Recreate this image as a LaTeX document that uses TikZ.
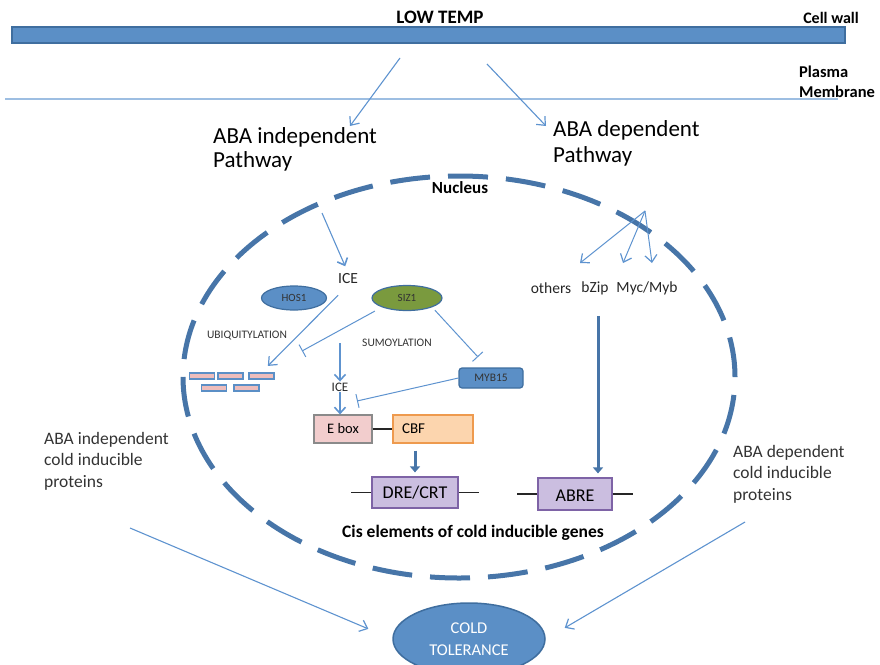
\documentclass[tikz,border=0pt]{standalone}
\usepackage{fontspec}
\setmainfont{Carlito}
\usetikzlibrary{arrows.meta,shapes.geometric,calc}

\definecolor{wallblue}{HTML}{5B8FC6}
\definecolor{walledge}{HTML}{3F6E9F}
\definecolor{arrowblue}{HTML}{5E93CF}
\definecolor{membranecol}{HTML}{9DBEE2}
\definecolor{nucblue}{HTML}{4775A8}
\definecolor{sizgreen}{HTML}{7A9A3E}
\definecolor{brickpink}{HTML}{EDBDBC}
\definecolor{eboxpink}{HTML}{F2CDCD}
\definecolor{eboxedge}{HTML}{8A8A8A}
\definecolor{cbforange}{HTML}{FCD5AE}
\definecolor{cbfedge}{HTML}{EE9A4E}
\definecolor{crefill}{HTML}{CBBEE0}
\definecolor{creedge}{HTML}{7E63A6}
\definecolor{labelgray}{HTML}{333333}

\tikzset{
  arr/.style={draw=arrowblue, line width=1.1pt, -{Straight Barb[length=7pt,width=12pt,line width=1.2pt]}},
  innerarr/.style={draw=arrowblue, line width=1.6pt, -{Straight Barb[length=6pt,width=11pt,line width=1.6pt]}},
  inhib/.style={draw=arrowblue, line width=1pt, -{Bar[width=14pt,line width=1pt]}},
  thickarr/.style={draw=nucblue, line width=3pt, -{Triangle[length=6pt,width=10pt]}},
  boldlabel/.style={font=\bfseries\fontsize{16.5}{20}\selectfont, align=left, inner sep=0pt},
  pathlabel/.style={font=\fontsize{23}{24}\selectfont, align=left, inner sep=0pt, anchor=north west},
  protlabel/.style={font=\fontsize{17.5}{21.5}\selectfont, align=left, inner sep=0pt, anchor=north west, text=labelgray},
  tflabel/.style={font=\fontsize{15.5}{18}\selectfont, inner sep=1pt, text=black!85},
  smalllabel/.style={font=\fontsize{11.5}{13}\selectfont, inner sep=0pt, text=labelgray},
  oval/.style={ellipse, draw=walledge, line width=1.2pt, inner sep=0pt, font=\fontsize{11}{13}\selectfont, text=black!80},
  brick/.style={rectangle, draw=wallblue, fill=brickpink, line width=1.4pt, minimum width=25pt, minimum height=6pt, inner sep=0pt},
  elem/.style={rectangle, draw=creedge, fill=crefill, line width=1.2pt, inner sep=0pt, font=\fontsize{18}{21}\selectfont},
  nucleus/.style={draw=nucblue, line width=5pt, dash pattern=on 40pt off 18pt}
}

\begin{document}
\begin{tikzpicture}[x=1pt,y=-1pt]
\useasboundingbox (0,0) rectangle (880,664);

% cell wall and plasma membrane
\node[font=\bfseries\fontsize{19}{22}\selectfont, inner sep=0pt] (lowtemp) at (440,17) {LOW TEMP};
\node[boldlabel, font=\bfseries\fontsize{16}{19}\selectfont] (cellwalllabel) at (831,18) {Cell wall};
\node[rectangle, draw=walledge, fill=wallblue, line width=1.5pt, minimum width=833pt, minimum height=16pt, inner sep=0pt] (wall) at (428.5,35) {};
\node[boldlabel] (pmlabel) at (837,82) {Plasma\\Membrane};
\draw[membranecol, line width=1.5pt] (5,99) -- (838,99);

% the two pathways
\node[pathlabel] (indep) at (213,127) {ABA independent\\Pathway};
\node[pathlabel, font=\fontsize{23}{26}\selectfont] (dep) at (553,120) {ABA dependent\\Pathway};
\coordinate (srcL) at (400,58);
\coordinate (srcR) at (487,64);
\coordinate (tipL) at (350,126);
\coordinate (tipR) at (546,126);
\draw[arr] (srcL) -- (tipL);
\draw[arr] (srcR) -- (tipR);

% nucleus
\draw[nucleus] (459,377) ellipse [x radius=276pt, y radius=201pt];
\node[font=\bfseries\fontsize{17}{20}\selectfont, inner sep=0pt] (nuclabel) at (460,188) {Nucleus};

% ABA independent branch
\coordinate (entryL) at (322,213);
\node[tflabel] (ice1) at (348,279) {ICE};
\draw[innerarr, line width=1.1pt, shorten >=7pt] (entryL) -- (ice1.north);
\node[oval, fill=wallblue, minimum width=65pt, minimum height=24pt] (hos) at (294,298) {HOS1};
\node[oval, fill=sizgreen, minimum width=70pt, minimum height=25pt] (siz) at (407,298) {SIZ1};
\node[smalllabel] (ubiq) at (247,336) {UBIQUITYLATION};
\node[smalllabel] (sumo) at (397,343) {SUMOYLATION};

\node[brick] (b1) at (202,376) {};
\node[brick] (b2) at (230.5,376) {};
\node[brick] (b3) at (261.5,376) {};
\node[brick] (b4) at (214,388) {};
\node[brick] (b5) at (246.5,388) {};
\draw[arr, shorten <=14pt, shorten >=9pt] (ice1.south) -- (b3.north);

\coordinate (ubT) at (302,351);
\coordinate (mybT) at (478,357);
\draw[inhib, shorten <=8pt] (siz.south west) -- (ubT);
\draw[inhib, shorten <=4pt] (siz.south east) -- (mybT);

\node[rectangle, draw=walledge, fill=wallblue, rounded corners=3pt, line width=1.2pt, minimum width=64pt, minimum height=20pt, inner sep=0pt, font=\fontsize{11.5}{13}\selectfont, text=black!80] (myb) at (491,378) {MYB15};

\coordinate (sumoIce) at (340,343);
\node[tflabel, font=\fontsize{13}{15}\selectfont] (ice2) at (340,387) {ICE};
\draw[innerarr] (sumoIce) -- (ice2.north);

\node[rectangle, draw=eboxedge, fill=eboxpink, line width=1.2pt, minimum width=58pt, minimum height=28pt, inner sep=0pt, font=\fontsize{14.5}{16}\selectfont] (ebox) at (343,429) {E box};
\node[rectangle, draw=cbfedge, fill=cbforange, line width=1.2pt, text width=62pt, inner xsep=9pt, minimum height=28pt, inner ysep=0pt, align=left, font=\fontsize{15}{17}\selectfont] (cbf) at (433,429) {CBF};
\draw[innerarr] (ice2.south) -- (ice2.south |- ebox.north);
\coordinate (ebT) at (357,401);
\draw[inhib] (myb.west) -- (ebT);
\draw[black!85, line width=1.1pt] (ebox.east) -- (cbf.west);

\node[elem, minimum width=86pt, minimum height=31pt] (dre) at (415,492.5) {DRE/CRT};
\draw[thickarr, shorten <=7pt, shorten >=4pt] (cbf.south -| dre.north) -- (dre.north);
\draw[black!85, line width=1.1pt] (dre.west) -- +(-20,0);
\draw[black!85, line width=1.1pt] (dre.east) -- +(20,0);

% ABA dependent branch
\coordinate (fan) at (645,211);
\node[tflabel] (others) at (551,288) {others};
\node[tflabel] (bzip) at (595,288) {bZip};
\node[tflabel] (myc) at (647,288) {Myc/Myb};
\coordinate (tipO) at (580,263);
\coordinate (tipB) at (623,263);
\coordinate (tipM) at (652,263);
\draw[arr, line width=1pt] (fan) -- (tipO);
\draw[arr, line width=1pt] (fan) -- (tipB);
\draw[arr, line width=1pt] (fan) -- (tipM);

\node[elem, minimum width=74pt, minimum height=32pt, text depth=0pt] (abre) at (575,494) {\raisebox{-3pt}{ABRE}};
\coordinate (bzfoot) at ($(bzip.south)+(3,20)$);
\draw[thickarr, shorten >=4pt] (bzfoot) -- (bzfoot |- abre.north);
\draw[black!85, line width=1.1pt] (abre.west) -- +(-20,0);
\draw[black!85, line width=1.1pt] (abre.east) -- +(20,0);

\node[font=\bfseries\fontsize{17.5}{20}\selectfont, inner sep=0pt] (cis) at (473,533) {Cis elements of cold inducible genes};

% cold inducible proteins and tolerance
\node[protlabel] (protL) at (44,432) {ABA independent\\cold inducible\\proteins};
\node[protlabel] (protR) at (733,445) {ABA dependent\\cold inducible\\proteins};
\node[ellipse, draw=walledge, fill=wallblue, line width=1.5pt, minimum width=152pt, minimum height=72pt, inner sep=0pt, align=center, text=white, font=\fontsize{16.5}{22}\selectfont] (cold) at (469,639) {COLD\\TOLERANCE};
\coordinate (fromL) at (130,528);
\coordinate (fromR) at (745,522);
\draw[arr, shorten >=26pt] (fromL) -- (cold.west);
\draw[arr, shorten >=22pt] (fromR) -- (cold.east);
\end{tikzpicture}
\end{document}
